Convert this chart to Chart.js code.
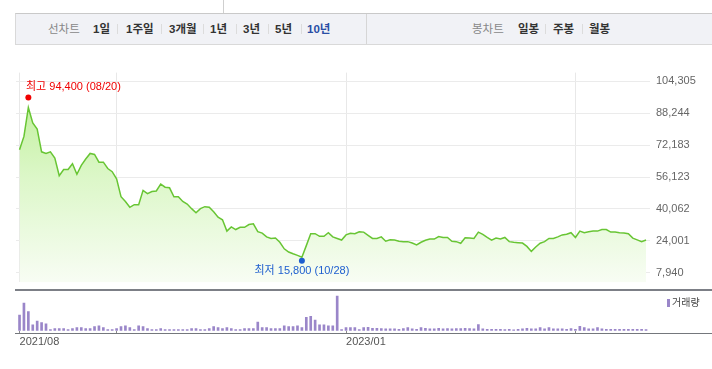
<!DOCTYPE html>
<html>
<head>
<meta charset="utf-8">
<script src="https://cdn.jsdelivr.net/npm/chart.js@4.4.1/dist/chart.umd.min.js"></script>
<style>
  body { margin: 0; width: 712px; height: 369px; overflow: hidden; background: #fff; position: relative;
         font-family: "Liberation Sans", "Noto Sans CJK KR", sans-serif; }
  .topline { position: absolute; left: 223px; top: 0; width: 1px; height: 13px; background: #cfcfcf; }
  .tabs { position: absolute; left: 15px; top: 13px; width: 697px; height: 30px; background: #f1f2f6;
          border-top: 1px solid #c9c9c9; border-bottom: 1px solid #d9d9d9; border-left: 1px solid #d9d9d9; }
  .tabs span { position: absolute; top: 0; line-height: 30px; font-size: 11.5px; font-weight: bold; color: #333; white-space: nowrap; }
  .tabs span.cap { font-weight: normal; color: #888; }
  .tabs span.on { color: #2a4ea5; }
  .tabs i { position: absolute; top: 10px; width: 1px; height: 10px; background: #dcdcdc; }
  .tabs .div { position: absolute; left: 350px; top: 0; width: 1px; height: 30px; background: #d6d6d6; }
  #price { position: absolute; left: 0; top: 60px; }
  #vol { position: absolute; left: 0; top: 288px; }
  .vline { position: absolute; left: 15px; width: 697px; }
  .legend { position: absolute; left: 667px; top: 297px; font-size: 10px; color: #444; line-height: 11px; }
  .legend b { display: inline-block; width: 3px; height: 8px; background: #9a86c9; margin-right: 2px; vertical-align: -1px; }
</style>
</head>
<body>
<div class="topline"></div>
<div class="tabs">
  <span class="cap" style="left:32px">선차트</span>
  <span style="left:77px">1일</span><i style="left:101px"></i>
  <span style="left:110px">1주일</span><i style="left:145px"></i>
  <span style="left:153px">3개월</span><i style="left:187px"></i>
  <span style="left:194px">1년</span><i style="left:220px"></i>
  <span style="left:227px">3년</span><i style="left:252px"></i>
  <span style="left:259px">5년</span><i style="left:285px"></i>
  <span class="on" style="left:291px">10년</span>
  <div class="div"></div>
  <span class="cap" style="left:456px">봉차트</span>
  <span style="left:502px">일봉</span><i style="left:529px"></i>
  <span style="left:537px">주봉</span><i style="left:566px"></i>
  <span style="left:573px">월봉</span>
</div>
<canvas id="price" width="712" height="235"></canvas>
<canvas id="vol" width="712" height="81"></canvas>
<div class="vline" style="top:289px;height:2px;background:#7c7f86"></div>
<div class="vline" style="top:333px;height:1px;background:#74777c"></div>
<div class="legend"><b></b>거래량</div>
<script>
// weekly closes, 2021-08-06 .. 2024-04-26
const weekStart = "2021-08-06";
const price = [
  69800, 76550, 91100, 83300, 80200, 68800, 68000, 68800, 65600, 56800,
  59900, 59900, 62800, 57500, 62000, 65200, 68000, 67500, 63600, 63600,
  60400, 58800, 55200, 46200, 43800, 40900, 42200, 42200, 49400, 47800,
  48800, 49100, 52600, 51000, 50700, 46200, 46200, 43800, 42500, 40200,
  38100, 40200, 41200, 40900, 38600, 35900, 34600, 28900, 31000, 29700,
  30800, 30800, 32200, 32600, 28600, 27900, 26000, 25200, 25400, 23300,
  20000, 18400, 17500, 16700, 15800, 21600, 27600, 27600, 26300, 26300,
  28100, 26000, 25200, 24400, 27000, 27800, 27600, 28600, 28400, 26800,
  25200, 25200, 26000, 23800, 24500, 24400, 23800, 23600, 23600, 22900,
  22000, 23300, 24300, 24900, 24900, 26200, 25700, 25700, 23800, 23600,
  22800, 25500, 25400, 25200, 28400, 27300, 25700, 24400, 25400, 24900,
  25700, 23600, 23300, 23100, 22900, 21200, 18700, 20900, 22800, 23600,
  25200, 25200, 26000, 27000, 27300, 28100, 25700, 28900, 28100, 28600,
  28900, 28900, 29700, 29700, 28400, 28400, 28100, 27900, 27600, 25400,
  24500, 23600, 24400
];
const volume = [
  50, 88, 61, 19, 31, 26, 22, 4, 7, 7,
  7, 4, 7, 10, 10, 7, 7, 13, 16, 10,
  4, 4, 7, 13, 16, 10, 4, 16, 13, 7,
  4, 4, 7, 4, 4, 4, 4, 4, 4, 7,
  7, 4, 4, 7, 13, 10, 7, 10, 7, 4,
  4, 7, 7, 7, 28, 10, 10, 7, 7, 7,
  16, 13, 13, 16, 10, 43, 46, 34, 19, 19,
  16, 16, 110, 4, 10, 10, 10, 4, 10, 11,
  8, 8, 7, 6, 6, 6, 5, 7, 10, 6,
  5, 10, 8, 6, 6, 8, 6, 7, 6, 7,
  7, 8, 7, 6, 20, 6, 5, 5, 5, 5,
  4, 5, 3, 5, 6, 8, 6, 6, 10, 6,
  10, 6, 6, 6, 5, 7, 5, 14, 10, 6,
  6, 10, 6, 5, 5, 5, 5, 5, 5, 5,
  5, 5, 4
];
const priceTicks = [7940, 24001, 40062, 56123, 72183, 88244, 104305];
const monthTicks = [0, 22, 74, 126];
const monthLabels = ["2021/08", "", "2023/01", ""];
const highMark = { week: 2, value: 94400, text: "최고 94,400 (08/20)", color: "#f00000", dir: -1 };
const lowMark = { week: 64, value: 15800, text: "최저 15,800 (10/28)", color: "#1f5fcf", dir: 1 };

const weeks = price.map((_, i) => {
  const d = new Date(weekStart + "T00:00:00Z");
  d.setUTCDate(d.getUTCDate() + i * 7);
  return d.toISOString().slice(0, 10);
});

const FONT = '"Liberation Sans", "Noto Sans CJK KR", sans-serif';
const xRange = { min: -0.8, max: price.length - 0.1 };

const marksPlugin = {
  id: "marks",
  afterDatasetsDraw(chart) {
    const { ctx, chartArea, scales } = chart;
    ctx.save();
    ctx.font = "11px " + FONT;
    ctx.textBaseline = "middle";
    [highMark, lowMark].forEach((m) => {
      const px = scales.x.getPixelForValue(m.week);
      const py = scales.y.getPixelForValue(m.value) + m.dir * 3.5;
      ctx.fillStyle = m.color;
      ctx.beginPath();
      ctx.arc(px, py, 3, 0, Math.PI * 2);
      ctx.fill();
      const w = ctx.measureText(m.text).width;
      let tx = px - w / 2;
      tx = Math.max(chartArea.left + 10, Math.min(tx, chartArea.right - w));
      ctx.fillText(m.text, tx, py + m.dir * 10.6);
    });
    ctx.restore();
  },
};

new Chart(document.getElementById("price"), {
  type: "line",
  data: {
    labels: weeks,
    datasets: [{
      label: "종가",
      data: price.map((v, i) => ({ x: i, y: v })),
      borderColor: "#68c534",
      borderWidth: 1.5,
      pointRadius: 0,
      tension: 0,
      fill: "start",
      backgroundColor: (c) => {
        const area = c.chart.chartArea;
        if (!area) return "#e4f8d4";
        const g = c.chart.ctx.createLinearGradient(0, area.top, 0, area.bottom);
        g.addColorStop(0, "#b9ee90");
        g.addColorStop(0.5, "#dcf7c8");
        g.addColorStop(1, "#f8fdf4");
        return g;
      },
    }],
  },
  options: {
    responsive: false,
    animation: false,
    devicePixelRatio: 1,
    layout: { padding: { left: 16, right: 0, top: 12, bottom: 5 } },
    scales: {
      x: {
        type: "linear",
        min: xRange.min,
        max: xRange.max,
        afterBuildTicks: (s) => { s.ticks = monthTicks.map((v) => ({ value: v })); },
        ticks: { display: false },
        grid: { color: "#e8e8e8", drawTicks: false },
        border: { display: false },
      },
      y: {
        position: "right",
        min: 3098,
        max: 108663,
        afterBuildTicks: (s) => { s.ticks = priceTicks.map((v) => ({ value: v })); },
        afterFit: (s) => { s.width = 62; },
        ticks: {
          padding: 6,
          color: "#666",
          font: { size: 11, family: FONT },
          callback: (v) => v.toLocaleString("en-US"),
        },
        grid: { color: "#ebebeb", drawTicks: false },
        border: { display: false },
      },
    },
    plugins: { legend: { display: false }, tooltip: { enabled: false } },
  },
  plugins: [marksPlugin],
});

new Chart(document.getElementById("vol"), {
  type: "bar",
  data: {
    labels: weeks,
    datasets: [{
      label: "거래량",
      data: volume.map((v, i) => ({ x: i, y: v })),
      backgroundColor: "#9a86c9",
      barThickness: 2,
    }],
  },
  options: {
    responsive: false,
    animation: false,
    devicePixelRatio: 1,
    layout: { padding: { left: 16, right: 62, top: 3, bottom: 18 } },
    scales: {
      x: {
        type: "linear",
        offset: false,
        min: xRange.min,
        max: xRange.max,
        afterBuildTicks: (s) => { s.ticks = monthTicks.map((v) => ({ value: v })); },
        ticks: {
          align: "start",
          padding: 2,
          maxRotation: 0,
          color: "#555",
          font: { size: 11, family: FONT },
          callback: (v) => monthLabels[monthTicks.indexOf(v)] || "",
        },
        grid: { offset: false, drawOnChartArea: false, tickLength: 3, color: "#888" },
        border: { display: false },
      },
      y: { display: false, min: 0, max: 126 },
    },
    plugins: { legend: { display: false }, tooltip: { enabled: false } },
  },
});
</script>
</body>
</html>
